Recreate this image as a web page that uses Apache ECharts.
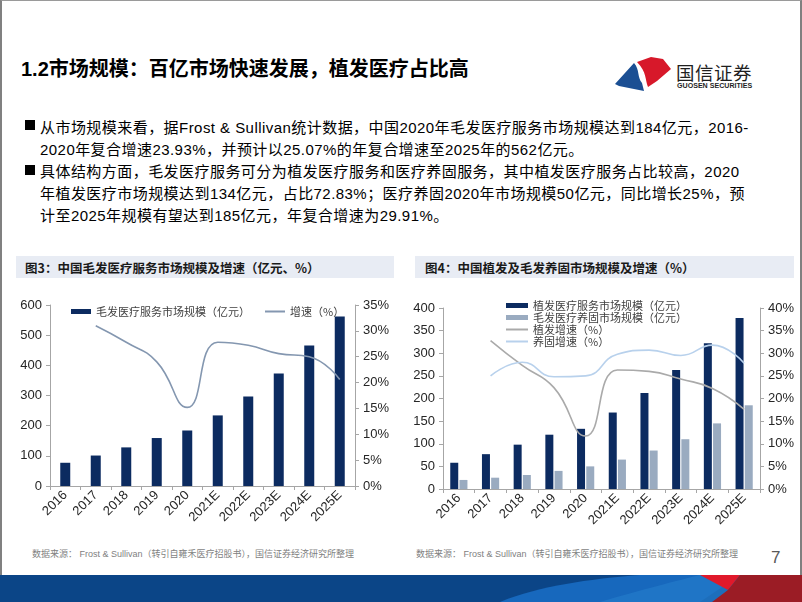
<!DOCTYPE html>
<html>
<head>
<meta charset="utf-8">
<script src="https://cdn.jsdelivr.net/npm/echarts@6/dist/echarts.min.js"></script>
<style>
html,body{margin:0;padding:0;background:#fff;}
#page{position:relative;width:802px;height:602px;overflow:hidden;background:#fff;font-family:"Liberation Sans","Noto Sans CJK SC",sans-serif;}
#frame{position:absolute;left:0;top:0;width:802px;height:580px;box-sizing:border-box;border-left:2px solid #808080;border-right:2px solid #808080;border-top:1px solid #9a9a9a;}
#title{position:absolute;left:21px;top:53px;font-size:20px;font-weight:bold;color:#000;white-space:nowrap;font-family:"Liberation Sans","Noto Sans CJK SC",sans-serif;letter-spacing:0px;}
.ln{position:absolute;font-size:15px;color:#000;white-space:nowrap;letter-spacing:0.45px;font-family:"Liberation Sans","Noto Sans CJK SC",sans-serif;}
.sq{position:absolute;width:10px;height:10px;background:#000;}
.cbox{position:absolute;top:256px;height:22px;background:#e8ecf4;}
.ctitle{position:absolute;top:258px;font-size:12.5px;font-weight:bold;color:#1a1a1a;white-space:nowrap;font-family:"Noto Sans CJK SC",sans-serif;}
.src{position:absolute;top:547px;font-size:9px;color:#7f7f7f;white-space:nowrap;font-family:"Liberation Sans","Noto Sans CJK SC",sans-serif;}
#pnum{position:absolute;left:771px;top:548px;font-size:17px;color:#595959;}
#chart{position:absolute;left:0;top:0;width:802px;height:602px;}
#logo-cn{position:absolute;left:676px;top:59px;font-size:18.5px;color:#1f1f1f;font-family:"Noto Sans CJK SC",sans-serif;letter-spacing:0.5px;white-space:nowrap;}
#logo-en{position:absolute;left:677px;top:82px;font-size:7.1px;font-weight:bold;color:#1f1f1f;white-space:nowrap;}
</style>
</head>
<body>
<div id="page">
  <div id="frame"></div>
  <div id="title">1.2市场规模：百亿市场快速发展，植发医疗占比高</div>

  <svg style="position:absolute;left:0;top:0" width="802" height="602">
    <path d="M615,84 L634,63 C640,70 637,77 642,83 L644,91 L619,86 Z" fill="#1b4f93"/>
    <path d="M637,62 L651,57 L663,59 L671,69 L657,81 L648,87 C645,80 647,72 637,62 Z" fill="#d7182a"/>
    <rect x="0" y="575" width="802" height="27" fill="#0b4587"/>
    <path d="M500,602 C540,585 600,578 640,575 L740,575 L700,602 Z" fill="#1768bd"/>
    <path d="M600,602 C640,590 680,580 700,575 L745,575 L715,602 Z" fill="#2278c8" opacity="0.8"/>
    <path d="M700,575 L740,575 L728,590 Z" fill="#e0192b"/>
    <path d="M740,575 L802,575 L802,602 L712,602 L728,590 Z" fill="#9b1c25"/>
  </svg>
  <div id="logo-cn">国信证券</div>
  <div id="logo-en">GUOSEN SECURITIES</div>

  <div class="sq" style="left:25px;top:120px"></div>
  <div class="ln" style="left:40px;top:116px">从市场规模来看，据Frost &amp; Sullivan统计数据，中国2020年毛发医疗服务市场规模达到184亿元，2016-</div>
  <div class="ln" style="left:40px;top:138px">2020年复合增速23.93%，并预计以25.07%的年复合增速至2025年的562亿元。</div>
  <div class="sq" style="left:25px;top:165px"></div>
  <div class="ln" style="left:40px;top:160px">具体结构方面，毛发医疗服务可分为植发医疗服务和医疗养固服务，其中植发医疗服务占比较高，2020</div>
  <div class="ln" style="left:40px;top:182px">年植发医疗市场规模达到134亿元，占比72.83%；医疗养固2020年市场规模50亿元，同比增长25%，预</div>
  <div class="ln" style="left:40px;top:204px">计至2025年规模有望达到185亿元，年复合增速为29.91%。</div>

  <div class="cbox" style="left:16px;width:378px"></div>
  <div class="cbox" style="left:415px;width:379px"></div>
  <div class="ctitle" style="left:25px">图3：中国毛发医疗服务市场规模及增速（亿元、%）</div>
  <div class="ctitle" style="left:425px">图4：中国植发及毛发养固市场规模及增速（%）</div>

  <div class="src" style="left:32px">数据来源： Frost &amp; Sullivan（转引自雍禾医疗招股书），国信证券经济研究所整理</div>
  <div class="src" style="left:416px">数据来源： Frost &amp; Sullivan（转引自雍禾医疗招股书），国信证券经济研究所整理</div>
  <div id="pnum">7</div>

  <div id="chart"></div>
</div>
<script>
// ---- data ----
var categories = ['2016','2017','2018','2019','2020','2021E','2022E','2023E','2024E','2025E'];
var hairMarket = [77, 101, 128, 159, 184, 234, 297, 373, 466, 562];
var hairGrowth = [null, 31.0, 27.8, 24.0, 15.2, 27.8, 27.2, 25.6, 25.0, 20.6];
var plantMarket = [58, 77, 98, 120, 133, 169, 212, 263, 322, 378];
var careMarket = [20, 25, 31, 40, 50, 65, 85, 110, 145, 185];
var plantGrowth = [null, 32.8, 27.3, 22.4, 11.7, 26.3, 26.0, 24.3, 22.2, 17.6];
var careGrowth = [null, 25.0, 28.0, 24.8, 25.0, 29.8, 30.7, 29.5, 31.8, 27.8];
var leftTicks1 = {min:0, max:600, interval:100};
var rightTicks1 = {min:0, max:35, interval:5};
var leftTicks2 = {min:0, max:400, interval:50};
var rightTicks2 = {min:0, max:40, interval:5};

var names = {
  hair: '毛发医疗服务市场规模（亿元）',
  hairG: '增速（%）',
  plant: '植发医疗服务市场规模（亿元）',
  care: '毛发医疗养固市场规模（亿元）',
  plantG: '植发增速（%）',
  careG: '养固增速（%）'
};

var axisColor = '#a6a6a6';
var labelStyle = {color:'#262626', fontSize:13, fontFamily:'Liberation Sans'};
function yAxis(gi, t, pos, pct){
  return {
    type:'value', gridIndex:gi, position:pos, min:t.min, max:t.max, interval:t.interval,
    splitLine:{show:false},
    axisLine:{show:true, lineStyle:{color:axisColor, width:1}},
    axisTick:{show:true, length:4, lineStyle:{color:axisColor}},
    axisLabel:Object.assign({margin:8, formatter: pct ? '{value}%' : '{value}'}, labelStyle)
  };
}
function xAxis(gi){
  return {
    type:'category', gridIndex:gi, data:categories,
    axisLine:{show:true, lineStyle:{color:axisColor, width:1}},
    axisTick:{show:true, length:4, lineStyle:{color:axisColor}},
    axisLabel:Object.assign({rotate:45, margin:7, interval:0}, labelStyle)
  };
}
var hideSym = {opacity:0};

var chart = echarts.init(document.getElementById('chart'), null, {renderer:'canvas'});
var legendText = {fontSize:11, color:'#404040', fontFamily:'Noto Sans CJK SC'};
chart.setOption({
  animation:false,
  grid:[
    {left:50, top:305, width:305, height:181},
    {left:443, top:308, width:317, height:181}
  ],
  legend:[
    {left:71, top:306, padding:0, itemWidth:20, itemHeight:5, itemGap:14, textStyle:legendText,
     data:[{name:names.hair, icon:'rect'}, {name:names.hairG, itemStyle:hideSym}]},
    {left:505, top:300, padding:0, orient:'vertical', itemWidth:22, itemHeight:5, itemGap:1, textStyle:Object.assign({lineHeight:11}, legendText),
     data:[{name:names.plant, icon:'rect'}, {name:names.care, icon:'rect'}, {name:names.plantG, itemStyle:hideSym}, {name:names.careG, itemStyle:hideSym}]}
  ],
  xAxis:[xAxis(0), xAxis(1)],
  yAxis:[
    yAxis(0, leftTicks1, 'left', false),
    yAxis(0, rightTicks1, 'right', true),
    yAxis(1, leftTicks2, 'left', false),
    yAxis(1, rightTicks2, 'right', true)
  ],
  series:[
    {name:names.hair, type:'bar', xAxisIndex:0, yAxisIndex:0, data:hairMarket, barWidth:10, itemStyle:{color:'#0c2b60'}},
    {name:names.hairG, type:'line', xAxisIndex:0, yAxisIndex:1, data:hairGrowth, smooth:0.5, symbol:'none', lineStyle:{color:'#8497b0', width:1.6}, itemStyle:{color:'#8497b0'}},
    {name:names.plant, type:'bar', xAxisIndex:1, yAxisIndex:2, data:plantMarket, barWidth:8, barGap:'15%', itemStyle:{color:'#0c2b60'}},
    {name:names.care, type:'bar', xAxisIndex:1, yAxisIndex:2, data:careMarket, barWidth:8, barGap:'15%', itemStyle:{color:'#9aabc0'}},
    {name:names.plantG, type:'line', xAxisIndex:1, yAxisIndex:3, data:plantGrowth, smooth:0.5, symbol:'none', lineStyle:{color:'#aaaaaa', width:1.6}, itemStyle:{color:'#aaaaaa'}},
    {name:names.careG, type:'line', xAxisIndex:1, yAxisIndex:3, data:careGrowth, smooth:0.5, symbol:'none', lineStyle:{color:'#b8d1ec', width:1.6}, itemStyle:{color:'#b8d1ec'}}
  ]
});
</script>
</body>
</html>
